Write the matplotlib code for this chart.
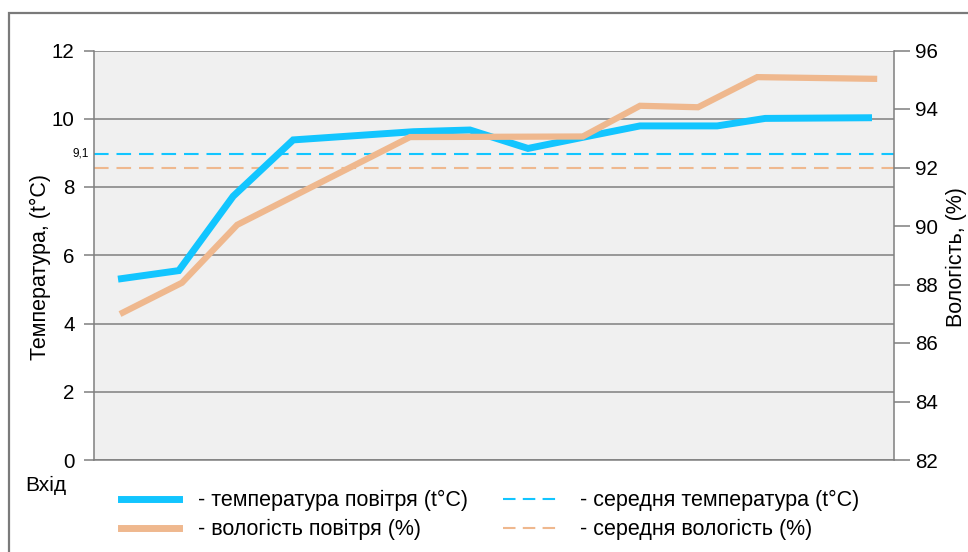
import matplotlib
matplotlib.use('Agg')
import matplotlib.pyplot as plt
from matplotlib.patches import Rectangle
from matplotlib.lines import Line2D

plt.rcParams['font.family'] = ['Liberation Sans', 'DejaVu Sans']

# distance along the route (arbitrary units), temperature and humidity readings
dist_t = [3.0, 10.6, 17.4, 24.9, 39.9, 47.0, 54.25, 61.4, 68.25, 77.9, 83.9, 97.25]
temp = [5.30, 5.55, 7.73, 9.38, 9.62, 9.67, 9.13, 9.47, 9.79, 9.79, 10.01, 10.03]

dist_h = [3.25, 11.0, 17.9, 39.5, 61.1, 68.25, 75.5, 82.9, 97.9]
hum = [86.99, 88.06, 90.04, 93.04, 93.06, 94.11, 94.06, 95.09, 95.03]

temp_mean = 8.97
temp_mean_label = '9,1'
hum_mean = 92.0

temp_ticks = [0, 2, 4, 6, 8, 10, 12]
hum_ticks = [82, 84, 86, 88, 90, 92, 94, 96]

blue = '#12c5ff'
orange = '#efb88e'
grey = '#7f7f7f'

fig = plt.figure(figsize=(9.68, 5.52), dpi=100)
W, H = 968, 552
ax = fig.add_axes([94 / W, (H - 460) / H, 800 / W, 409.5 / H])
ax2 = ax.twinx()

# outer frame
fig.patches.append(Rectangle((9 / W, -0.1), 1.2, (H - 13) / H + 0.1, transform=fig.transFigure,
                             fill=False, edgecolor='#7a7a7a', linewidth=1.6))

ax.set_facecolor('#f0f0f0')
ax.set_xlim(0, 100)
ax.set_ylim(0, 12)
ax2.set_ylim(82, 96)

ax.set_yticks(temp_ticks)
ax2.set_yticks(hum_ticks)
ax.set_xticks([])
ax.grid(axis='y', color=grey, linewidth=1.1)
ax.set_axisbelow(True)

for a in (ax, ax2):
    for s in a.spines.values():
        s.set_color(grey)
        s.set_linewidth(1.1)
    a.spines['top'].set_visible(False)
ax.spines['right'].set_visible(False)
ax2.spines['left'].set_visible(False)
ax2.spines['bottom'].set_visible(False)

ax.tick_params(axis='y', length=7, width=1.1, color=grey, pad=7, labelsize=14.8)
ax2.tick_params(axis='y', length=11.5, width=1.1, color=grey, pad=3.5, labelsize=14.8)

# averages
hum_mean_on_t = (hum_mean - 82) * 12 / 14
ax.axhline(temp_mean, color=blue, linewidth=1.5, dashes=(7, 3.8))
ax.axhline(hum_mean_on_t, color=orange, linewidth=1.5, dashes=(7, 3.8))
ax.text(-0.007, temp_mean, temp_mean_label, transform=ax.get_yaxis_transform(),
        ha='right', va='center', fontsize=8.5)

ax.plot(dist_t, temp, color=blue, linewidth=5, solid_joinstyle='miter', solid_capstyle='butt')
ax2.plot(dist_h, hum, color=orange, linewidth=4.5, solid_joinstyle='miter', solid_capstyle='butt')

ax.text(-0.0675, 0.4725, 'Температура, (t°C)', transform=ax.transAxes, rotation=90,
        ha='center', va='center', fontsize=15.5)
ax2.text(1.0785, 0.496, 'Вологість, (%)', transform=ax.transAxes, rotation=90,
         ha='center', va='center', fontsize=15.5)
fig.text(46 / W, 1 - 485 / H, 'Вхід', ha='center', va='center', fontsize=15)

handles = [
    Line2D([], [], color=blue, linewidth=5),
    Line2D([], [], color=orange, linewidth=5),
    Line2D([], [], color=blue, linewidth=1.5, dashes=(6, 3.5)),
    Line2D([], [], color=orange, linewidth=1.5, dashes=(6, 3.5)),
]
labels = ['- температура повітря (t°C)', '- вологість повітря (%)',
          '- середня температура (t°C)', '- середня вологість (%)']
fig.legend(handles, labels, ncol=2, loc='upper left', bbox_to_anchor=(121 / W, 1 - 490 / H),
           frameon=False, fontsize=15.5, handlelength=2.7, handletextpad=0.88,
           columnspacing=1.6, labelspacing=0.37, borderaxespad=0, borderpad=0)

fig.savefig('out.png', dpi=100)
